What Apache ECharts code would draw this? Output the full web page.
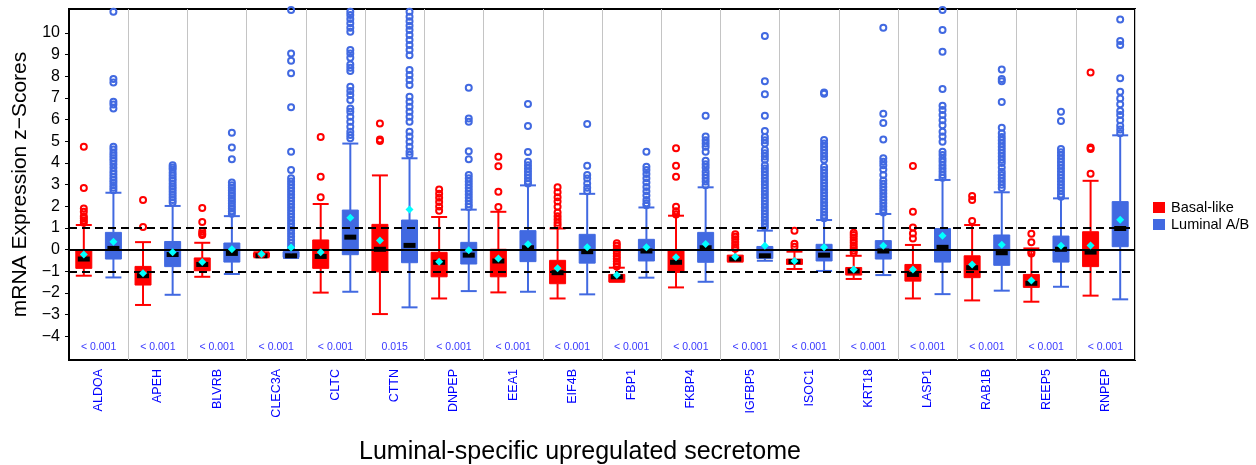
<!DOCTYPE html>
<html>
<head>
<meta charset="UTF-8">
<title>Luminal-specific upregulated secretome</title>
<script src="https://cdn.jsdelivr.net/npm/echarts@6/dist/echarts.min.js"></script>
<style>
  html, body { margin: 0; padding: 0; background: #fff; }
  #chart { width: 1256px; height: 465px; }
</style>
</head>
<body>
<div id="chart"></div>
<script>
// genes on the x axis
var genes = ['ALDOA', 'APEH', 'BLVRB', 'CLEC3A', 'CLTC', 'CTTN', 'DNPEP', 'EEA1', 'EIF4B',
  'FBP1', 'FKBP4', 'IGFBP5', 'ISOC1', 'KRT18', 'LASP1', 'RAB1B', 'REEP5', 'RNPEP'];
var pValues = ['< 0.001', '< 0.001', '< 0.001', '< 0.001', '< 0.001', '0.015', '< 0.001', '< 0.001', '< 0.001',
  '< 0.001', '< 0.001', '< 0.001', '< 0.001', '< 0.001', '< 0.001', '< 0.001', '< 0.001', '< 0.001'];
var yTicks = [-4, -3, -2, -1, 0, 1, 2, 3, 4, 5, 6, 7, 8, 9, 10];

// box stats: [lower whisker, Q1, median, Q3, upper whisker]
var basalBox = [
  [-1.2, -0.86, -0.43, -0.05, 1.14],
  [-2.55, -1.63, -1.2, -0.77, 0.35],
  [-1.25, -0.97, -0.68, -0.38, 0.32],
  [-0.35, -0.33, -0.28, -0.15, -0.12],
  [-1.98, -0.86, -0.31, 0.45, 2.11],
  [-2.97, -1.02, 0.02, 1.17, 3.43],
  [-2.25, -1.25, -0.58, -0.12, 1.51],
  [-1.97, -1.25, -0.52, 0.02, 1.75],
  [-2.25, -1.57, -1.06, -0.49, 0.98],
  [-1.48, -1.48, -1.25, -1.14, -0.83],
  [-1.74, -1.05, -0.58, -0.02, 1.57],
  [-0.55, -0.55, -0.43, -0.25, -0.02],
  [-0.89, -0.68, -0.55, -0.43, -0.09],
  [-1.35, -1.17, -0.98, -0.82, -0.28],
  [-2.25, -1.45, -1.14, -0.68, 0.22],
  [-2.34, -1.29, -0.83, -0.28, 1.14],
  [-2.4, -1.74, -1.55, -1.14, 0.06],
  [-2.12, -0.78, -0.11, 0.83, 3.18]
];
var luminalBox = [
  [-1.28, -0.43, 0.06, 0.8, 2.63],
  [-2.08, -0.78, -0.22, 0.38, 2.02],
  [-1.12, -0.57, -0.17, 0.31, 1.55],
  [-0.38, -0.35, -0.28, -0.09, -0.03],
  [-1.94, -0.23, 0.58, 1.83, 4.9],
  [-2.66, -0.6, 0.2, 1.37, 4.22],
  [-1.91, -0.66, -0.25, 0.34, 1.85],
  [-1.94, -0.55, 0.09, 0.88, 2.97],
  [-2.06, -0.62, -0.09, 0.71, 2.58],
  [-1.29, -0.52, -0.06, 0.48, 1.95],
  [-1.48, -0.58, 0.09, 0.8, 2.88],
  [-0.51, -0.4, -0.28, 0.15, 0.88],
  [-0.98, -0.52, -0.25, 0.25, 1.37],
  [-1.17, -0.43, -0.06, 0.42, 1.65],
  [-2.05, -0.57, 0.11, 0.98, 3.22],
  [-1.89, -0.72, -0.14, 0.68, 2.65],
  [-1.71, -0.57, 0.02, 0.63, 2.37],
  [-2.29, 0.14, 0.98, 2.22, 5.28]
];
var basalMean = [-0.22, -1.09, -0.57, -0.2, -0.12, 0.42, -0.55, -0.4, -0.86, -1.17, -0.35, -0.32, -0.52, -0.91, -0.91, -0.68, -1.42, 0.2];
var luminalMean = [0.37, -0.12, 0.02, 0.1, 1.48, 1.86, -0.02, 0.25, 0.11, 0.11, 0.26, 0.18, 0.11, 0.18, 0.65, 0.23, 0.18, 1.38];

var basalOut = [
  [4.75, 2.85, 1.9, 1.75, 1.55, 1.45, 1.35, 1.25],
  [2.29, 1.05],
  [1.92, 1.28, 0.85, 0.75, 0.68],
  [-0.2],
  [5.2, 3.37, 2.42],
  [5.83, 5.09, 5.02],
  [2.78, 2.58, 2.4, 2.2, 2.0, 1.8],
  [4.29, 3.85, 2.68, 1.97],
  [2.88, 2.65, 2.42, 2.22, 1.98, 1.72, 1.55, 1.4, 1.25, 1.12],
  [0.3, 0.18, 0.06, -0.06, -0.18, -0.3, -0.42, -0.54, -0.66, -0.78],
  [4.68, 3.88, 3.37, 1.98, 1.78, 1.63],
  [0.71, 0.6, 0.48, 0.36, 0.24, 0.12, 0.04],
  [0.88, 0.28, 0.14],
  [0.78, 0.68, 0.56, 0.44, 0.32, 0.2, 0.08, -0.04, -0.14],
  [3.86, 1.75, 1.02, 0.75, 0.52],
  [2.48, 2.29, 1.32],
  [0.74, 0.34, -0.09, -0.17],
  [8.18, 4.72, 4.65, 3.51]
];
var luminalOut = [
  [10.98, 7.88, 7.72, 6.83, 6.7, 6.52, 4.75, 4.62, 4.48, 4.35, 4.22, 4.1, 3.95, 3.78, 3.62, 3.48, 3.35, 3.22, 3.1, 2.98, 2.86, 2.75],
  [3.9, 3.8, 3.7, 3.55, 3.42, 3.3, 3.18, 3.05, 2.92, 2.8, 2.68, 2.55, 2.42, 2.3, 2.18],
  [5.4, 4.72, 4.17, 3.1, 2.98, 2.86, 2.74, 2.62, 2.5, 2.38, 2.26, 2.14, 2.02, 1.9, 1.78, 1.66],
  [11.06, 9.06, 8.72, 8.14, 6.58, 4.52, 3.68, 3.3, 3.15, 3.0, 2.85, 2.7, 2.55, 2.4, 2.25, 2.1, 1.95, 1.8, 1.65, 1.5, 1.35, 1.2, 1.05, 0.9, 0.75, 0.6, 0.45, 0.3, 0.15, 0.02],
  [10.98, 10.83, 10.65, 10.45, 10.25, 10.06, 9.22, 9.06, 8.86, 8.55, 8.4, 8.25, 7.52, 7.32, 7.14, 6.91, 6.52, 6.37, 6.14, 5.91, 5.68, 5.45, 5.3, 5.14],
  [10.98, 10.75, 10.55, 10.34, 10.14, 9.91, 9.68, 9.45, 9.22, 8.98, 8.29, 8.06, 7.83, 7.6, 7.06, 6.83, 6.6, 6.37, 6.14, 5.91, 5.45, 5.22, 4.98, 4.75, 4.52, 4.38],
  [7.48, 6.06, 5.91, 4.55, 4.18, 3.45, 3.3, 3.15, 3.0, 2.85, 2.7, 2.55, 2.4, 2.25, 2.1, 1.97],
  [6.72, 5.71, 4.51, 4.06, 3.9, 3.75, 3.6, 3.45, 3.3, 3.15, 3.06],
  [5.8, 3.88, 3.45, 3.29, 3.06, 2.86, 2.7],
  [4.52, 3.83, 3.68, 3.5, 3.3, 3.1, 2.9, 2.7, 2.5, 2.3, 2.15, 2.05],
  [6.18, 5.22, 5.05, 4.9, 4.75, 4.52, 4.11, 3.95, 3.8, 3.6, 3.45, 3.3, 3.15, 2.98],
  [9.86, 7.77, 7.17, 6.18, 5.48, 5.2, 5.05, 4.9, 4.6, 4.45, 4.3, 4.15, 3.9, 3.75, 3.6, 3.45, 3.3, 3.15, 3.0, 2.85, 2.7, 2.55, 2.4, 2.25, 2.1, 1.95, 1.8, 1.65, 1.5, 1.35, 1.2, 1.05],
  [7.26, 7.2, 5.06, 4.9, 4.75, 4.6, 4.45, 4.3, 4.15, 3.83, 3.68, 3.53, 3.38, 3.23, 3.08, 2.93, 2.78, 2.63, 2.48, 2.33, 2.18, 2.03, 1.88, 1.73, 1.58, 1.45],
  [10.25, 6.28, 5.85, 5.09, 4.22, 4.06, 3.9, 3.7, 3.45, 3.2, 3.05, 2.9, 2.75, 2.6, 2.45, 2.3, 2.15, 2.0, 1.85, 1.72],
  [11.06, 10.14, 9.14, 7.42, 6.65, 6.45, 6.22, 5.98, 5.75, 5.45, 5.22, 4.98, 4.52, 4.37, 4.2, 4.06, 3.9, 3.75, 3.6, 3.45, 3.32],
  [8.32, 7.88, 7.78, 6.82, 5.63, 5.37, 5.2, 5.05, 4.9, 4.75, 4.6, 4.45, 4.3, 4.15, 4.0, 3.8, 3.6, 3.45, 3.3, 3.15, 3.0, 2.85],
  [6.37, 5.94, 4.65, 4.5, 4.35, 4.2, 4.05, 3.9, 3.75, 3.6, 3.45, 3.3, 3.15, 3.0, 2.85, 2.7, 2.55, 2.45],
  [10.63, 9.63, 9.45, 7.91, 7.29, 6.98, 6.71, 6.4, 6.22, 5.98, 5.72, 5.55, 5.37]
];

var RED = '#ff0000', BLUE = '#4169e1', CYAN = '#00ffff', LABEL_BLUE = '#0000ff';
var FONT = 'Liberation Sans, Arial, sans-serif';
var OFF_BASAL = 0.25, OFF_LUM = 0.75;  // position inside each gene slot

function boxData(stats) {
  return stats.map(function (s, i) { return [i].concat(s); });
}
function outData(list, off) {
  var out = [];
  list.forEach(function (vals, i) {
    vals.forEach(function (v) { out.push([i + off, v]); });
  });
  return out;
}
function meanData(list, off) {
  return list.map(function (v, i) { return [i + off, v]; });
}

function boxRenderer(off, color) {
  return function (params, api) {
    var x = api.value(0) + off;
    var lo = api.coord([x, api.value(1)]);
    var q1 = api.coord([x, api.value(2)]);
    var md = api.coord([x, api.value(3)]);
    var q3 = api.coord([x, api.value(4)]);
    var hi = api.coord([x, api.value(5)]);
    var hw = api.size([0.135, 0])[0];
    var cx = lo[0];
    var ln = { stroke: color, lineWidth: 2 };
    return {
      type: 'group',
      children: [
        { type: 'line', shape: { x1: cx, y1: lo[1], x2: cx, y2: q1[1] }, style: ln },
        { type: 'line', shape: { x1: cx, y1: q3[1], x2: cx, y2: hi[1] }, style: ln },
        { type: 'line', shape: { x1: cx - hw, y1: lo[1], x2: cx + hw, y2: lo[1] }, style: ln },
        { type: 'line', shape: { x1: cx - hw, y1: hi[1], x2: cx + hw, y2: hi[1] }, style: ln },
        { type: 'rect', shape: { x: cx - hw, y: q3[1], width: 2 * hw, height: Math.max(q1[1] - q3[1], 1) },
          style: { fill: color, stroke: color, lineWidth: 1 } },
        { type: 'rect', shape: { x: cx - hw + 2, y: md[1] - 2.5, width: 2 * hw - 4, height: 5 },
          style: { fill: '#000' } }
      ]
    };
  };
}

var myChart = echarts.init(document.getElementById('chart'));
var option = {
  animation: false,
  textStyle: { fontFamily: FONT },
  title: {
    text: 'Luminal-specific upregulated secretome',
    left: 354, top: 435,
    textStyle: { fontSize: 25, fontWeight: 'normal', color: '#000', fontFamily: FONT }
  },
  legend: {
    data: ['Basal-like', 'Luminal A/B'],
    orient: 'vertical',
    left: 1148, top: 195,
    icon: 'rect',
    itemWidth: 12, itemHeight: 11, itemGap: 2,
    textStyle: { fontSize: 14.5, color: '#000', fontFamily: FONT, padding: [0, 0, 0, 1] }
  },
  grid: {
    left: 69, right: 121, top: 9, bottom: 105,
    show: true, borderColor: '#000', borderWidth: 2, backgroundColor: 'transparent'
  },
  xAxis: [
    {
      type: 'category', data: genes, position: 'bottom',
      axisLine: { show: false }, axisTick: { show: false },
      axisLabel: { interval: 0, rotate: 90, margin: 9, color: LABEL_BLUE, fontSize: 12.5, fontFamily: FONT },
      splitLine: { show: true, interval: 0, lineStyle: { color: '#c4c4c4', width: 1 } }
    },
    { type: 'value', min: 0, max: 18, show: false }
  ],
  yAxis: {
    type: 'value', min: -5.09, max: 11.11,
    name: 'mRNA Expression z\u2212Scores', nameLocation: 'middle', nameGap: 29,
    nameTextStyle: { fontSize: 21, color: '#000', fontFamily: FONT },
    axisLine: { show: true, lineStyle: { color: '#000', width: 2 } },
    axisTick: { show: true, customValues: yTicks, length: 4, lineStyle: { color: '#000', width: 1 } },
    axisLabel: {
      customValues: yTicks, fontSize: 16, color: '#000', margin: 9, fontFamily: FONT,
      formatter: function (v) { return v < 0 ? '\u2212' + (-v) : String(v); }
    },
    splitLine: { show: false }
  },
  series: [
    {
      name: 'ref', type: 'scatter', xAxisIndex: 1, data: [], z: 1, silent: true,
      markLine: {
        silent: true, symbol: ['none', 'none'], label: { show: false },
        data: [
          { yAxis: 1, lineStyle: { color: '#000', width: 2, type: [8, 5] } },
          { yAxis: -1, lineStyle: { color: '#000', width: 2, type: [8, 5] } },
          { yAxis: 0, lineStyle: { color: '#000', width: 1.8, type: 'solid' } }
        ]
      }
    },
    {
      name: 'Basal-like', type: 'custom', xAxisIndex: 1, z: 3,
      itemStyle: { color: RED },
      renderItem: boxRenderer(OFF_BASAL, RED),
      encode: { x: 0, y: [1, 2, 3, 4, 5] },
      data: boxData(basalBox)
    },
    {
      name: 'Luminal A/B', type: 'custom', xAxisIndex: 1, z: 3,
      itemStyle: { color: BLUE },
      renderItem: boxRenderer(OFF_LUM, BLUE),
      encode: { x: 0, y: [1, 2, 3, 4, 5] },
      data: boxData(luminalBox)
    },
    {
      name: 'Basal-like outliers', type: 'scatter', xAxisIndex: 1, z: 4,
      symbol: 'circle', symbolSize: 6,
      itemStyle: { color: 'rgba(0,0,0,0)', borderColor: RED, borderWidth: 2, opacity: 1 },
      data: outData(basalOut, OFF_BASAL)
    },
    {
      name: 'Luminal outliers', type: 'scatter', xAxisIndex: 1, z: 4,
      symbol: 'circle', symbolSize: 6,
      itemStyle: { color: 'rgba(0,0,0,0)', borderColor: BLUE, borderWidth: 2, opacity: 1 },
      data: outData(luminalOut, OFF_LUM)
    },
    {
      name: 'mean', type: 'scatter', xAxisIndex: 1, z: 5,
      symbol: 'diamond', symbolSize: 8,
      itemStyle: { color: CYAN, opacity: 1 },
      data: meanData(basalMean, OFF_BASAL).concat(meanData(luminalMean, OFF_LUM))
    },
    {
      name: 'p', type: 'scatter', xAxisIndex: 1, z: 5, silent: true,
      symbolSize: 0,
      data: pValues.map(function (p, i) { return [i + 0.5, -4.48]; }),
      label: {
        show: true, position: 'inside', color: LABEL_BLUE, fontSize: 10.5, fontFamily: FONT,
        formatter: function (prm) { return pValues[prm.dataIndex]; }
      }
    }
  ]
};
myChart.setOption(option);
</script>
</body>
</html>
